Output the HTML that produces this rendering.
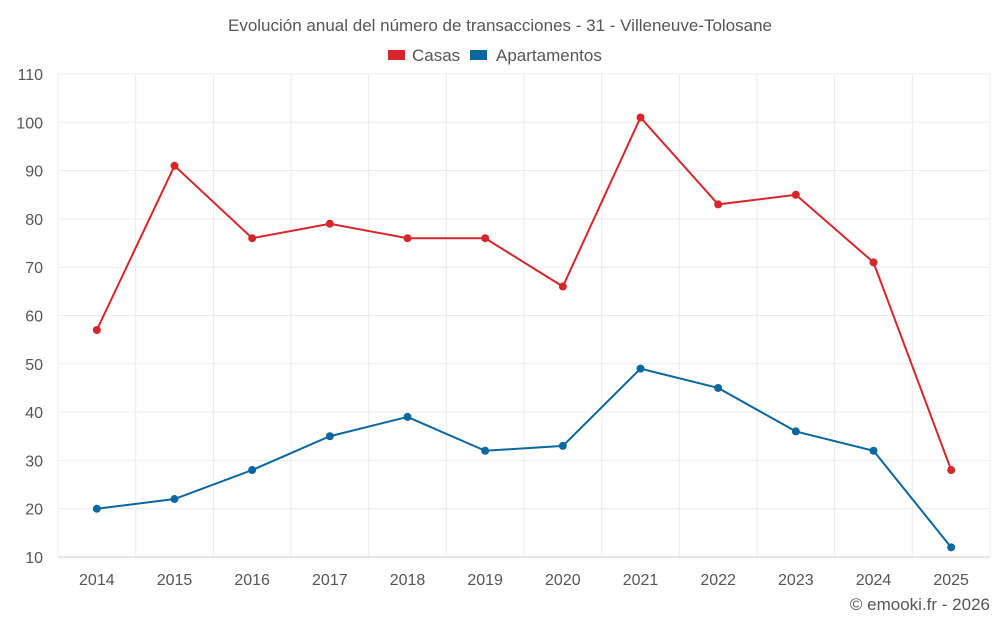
<!DOCTYPE html>
<html><head><meta charset="utf-8">
<style>
body{margin:0;background:#fff;font-family:"Liberation Sans",sans-serif;}
svg text{font-family:"Liberation Sans",sans-serif;}
</style></head>
<body>
<svg id="chart" width="1000" height="625" xmlns="http://www.w3.org/2000/svg">
<text x="500" y="31" text-anchor="middle" font-size="17" fill="#555">Evolución anual del número de transacciones - 31 - Villeneuve-Tolosane</text>
<g>
<g><rect x="388" y="50" width="17" height="10" fill="#d7262b"/><text x="412" y="61" font-size="17" fill="#555">Casas</text></g>
<g><rect x="470" y="50" width="17" height="10" fill="#0a67a0"/><text x="496" y="61" font-size="17" fill="#555">Apartamentos</text></g>
</g>
<g id="grid"></g>
<g id="axes"></g>
<g id="series"></g>
<text x="990" y="610" text-anchor="end" font-size="17" fill="#555">© emooki.fr - 2026</text>
</svg>
<script>
const years=[2014,2015,2016,2017,2018,2019,2020,2021,2022,2023,2024,2025];
const casas=[57,91,76,79,76,76,66,101,83,85,71,28];
const apartamentos=[20,22,28,35,39,32,33,49,45,36,32,12];
const yTicks=[10,20,30,40,50,60,70,80,90,100,110];
const NS="http://www.w3.org/2000/svg";
const L=58,R=990,T=74,B=557,yMin=10,yMax=110;
const step=(R-L)/years.length;
const x=i=>L+step*(i+0.5);
const y=v=>B-(v-yMin)/(yMax-yMin)*(B-T);
function mk(tag,attrs,parent,txt){const e=document.createElementNS(NS,tag);for(const k in attrs)e.setAttribute(k,attrs[k]);if(txt!==undefined)e.textContent=txt;parent.appendChild(e);return e;}
const grid=document.getElementById('grid'),axes=document.getElementById('axes'),series=document.getElementById('series');
yTicks.forEach(t=>{
  const l=mk('line',{x1:L,x2:R,y1:y(t),y2:y(t),stroke:t===yMin?'#ccc':'#ebebeb','stroke-width':1},grid);
  
  
  const tx=mk('text',{x:L-15,y:y(t)+6,'text-anchor':'end','font-size':16,fill:'#555'},axes,t);
  
  
});
for(let i=0;i<=years.length;i++){
  const l=mk('line',{x1:L+step*i,x2:L+step*i,y1:T,y2:B+(i===0?0:0),stroke:'#ebebeb','stroke-width':1},grid);
  
  
}
years.forEach((yr,i)=>{
  const tx=mk('text',{x:x(i),y:585,'text-anchor':'middle','font-size':16,fill:'#555'},axes,yr);
  
  
});
function draw(data,color,name){
  const p=mk('polyline',{points:data.map((v,i)=>x(i)+','+y(v)).join(' '),fill:'none',stroke:color,'stroke-width':2},series);
  
  
  data.forEach((v,i)=>{
    const c=mk('circle',{cx:x(i),cy:y(v),r:4,fill:color},series);
    
    
  });
}
draw(casas,'#d7262b','casas');
draw(apartamentos,'#0a67a0','apartamentos');
</script>
</body></html>
